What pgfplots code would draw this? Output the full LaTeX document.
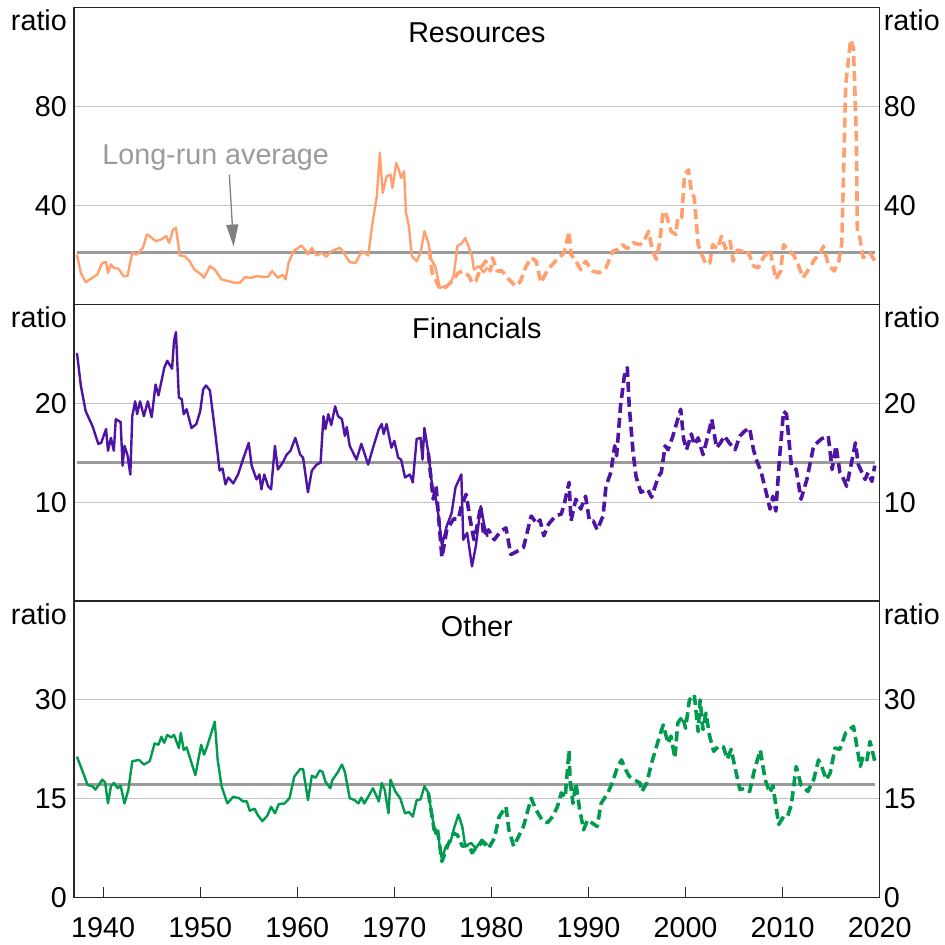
\documentclass[border=0pt]{standalone}
\usepackage{fontspec}
\setmainfont{Liberation Sans}
\usepackage{pgfplots}
\pgfplotsset{compat=1.18}
\usetikzlibrary{arrows.meta}
\definecolor{resc}{RGB}{255,160,110}
\definecolor{finc}{RGB}{80,20,165}
\definecolor{othc}{RGB}{0,155,78}
\definecolor{avgc}{RGB}{155,155,155}
\definecolor{gridc}{RGB}{195,195,195}
\newcommand{\fs}{\fontsize{28.8}{32}\selectfont}
\pgfplotsset{
 panel/.style={
  scale only axis, width=805.3bp, height=296.5bp,
  xmin=1937, xmax=2020,
  axis line style={line width=1.2bp, black!85},
  ymajorgrids, grid style={gridc, line width=1.1bp},
  xtick=\empty,
  ytick style={draw=none},
  yticklabel style={anchor=east, inner sep=0pt, xshift=-7bp},
  tick label style={font=\fs},
  /pgf/number format/assume math mode=true,
  clip=false,
  anchor=south west,
 },
 solid line/.style={line width=2.4bp, line join=round, no marks},
 dash line/.style={line width=3.6bp, dash pattern=on 10bp off 5bp, line join=round, no marks},
 avg line/.style={avgc, line width=2.6bp, no marks},
}
\newcommand{\rlab}[2]{\node[anchor=west, inner sep=0pt, font=\fs] at (axis cs:2020,#1) [xshift=4bp] {#2};}
\newcommand{\ratio}{%
 \node[anchor=base east, inner sep=0pt, font=\fs, xshift=-7bp, yshift=-23bp] at (rel axis cs:0,1) {ratio};
 \node[anchor=base west, inner sep=0pt, font=\fs, xshift=4bp, yshift=-23bp] at (rel axis cs:1,1) {ratio};}
\begin{document}
\begin{tikzpicture}[font=\fs]
\path[use as bounding box] (-74bp,-47.3bp) rectangle (870bp,897.3bp);
% ---------------- Resources ----------------
\begin{axis}[panel, at={(0bp,593bp)}, ymin=0, ymax=120, ytick={40,80}]
\addplot[avg line] coordinates {(1937.3,21) (2019.5,21)};
\addplot[resc, dash line] coordinates {
(1973.6,22.0) (1973.9,12.8) (1974.7,6.3) (1975.3,7.0) (1975.8,8.8) (1976.6,12.8) (1977.1,13.5) (1977.7,11.4)
(1978.0,8.8) (1978.4,9.4) (1978.9,14.8) (1979.4,17.5) (1979.9,13.5) (1980.1,18.9) (1980.6,13.5) (1981.1,13.5)
(1981.8,10.1) (1982.5,7.4) (1983.0,9.4) (1983.5,14.8) (1984.1,18.9) (1984.6,17.5) (1985.1,8.8) (1985.8,14.1)
(1986.6,17.5) (1987.5,20.9) (1988.0,29.6) (1988.2,20.2) (1988.7,17.5) (1989.2,14.1) (1989.7,17.5) (1990.4,13.5)
(1991.1,12.8) (1991.8,14.8) (1992.5,21.5) (1993.0,22.2) (1993.5,24.2) (1994.0,22.5) (1994.6,24.9) (1995.3,24.2)
(1995.7,25.5) (1996.2,29.6) (1996.6,21.5) (1997.0,18.2) (1997.3,24.2) (1997.7,37.7) (1998.0,36.4) (1998.5,29.6)
(1999.0,28.3) (1999.2,35.0) (1999.6,35.0) (1999.9,52.5) (2000.3,54.5) (2000.6,45.8) (2000.9,43.1) (2001.3,24.2)
(2001.6,20.9) (2002.1,16.2) (2002.5,16.8) (2002.8,24.2) (2003.3,22.5) (2003.7,27.6) (2004.1,22.5) (2004.6,25.6)
(2004.9,17.5) (2005.3,22.0) (2005.8,21.5) (2006.1,20.0) (2006.5,20.9) (2007.0,15.5) (2007.5,14.8) (2008.0,18.9)
(2008.7,22.2) (2009.3,10.1) (2009.8,13.5) (2010.1,24.2) (2010.6,22.0) (2011.1,20.2) (2011.6,16.2) (2012.1,10.8)
(2012.8,14.8) (2013.3,18.2) (2013.9,20.9) (2014.2,23.6) (2014.7,16.2) (2015.3,13.5) (2015.8,17.5) (2016.1,24.9)
(2016.5,88.9) (2016.8,99.7) (2017.0,107.1) (2017.3,103.7) (2017.6,67.3) (2017.7,29.6) (2017.9,28.0) (2018.3,18.9)
(2018.6,20.0) (2019.0,20.9) (2019.5,17.5)};
\addplot[resc, solid line] coordinates {
(1937.3,20.2) (1937.7,12.8) (1938.2,9.0) (1938.9,10.8) (1939.4,12.1) (1939.9,16.8) (1940.3,17.1) (1940.5,12.8)
(1940.8,16.2) (1941.1,14.8) (1941.6,14.4) (1942.1,11.4) (1942.5,11.4) (1943.0,20.9) (1943.5,20.2) (1944.1,22.9)
(1944.5,28.3) (1944.9,27.3) (1945.4,25.6) (1946.0,26.3) (1946.5,27.6) (1946.8,24.9) (1947.2,30.3) (1947.5,31.0)
(1947.9,19.8) (1948.4,19.5) (1948.9,17.5) (1949.4,14.1) (1950.1,12.1) (1950.4,10.8) (1951.0,15.5) (1951.5,14.1)
(1952.2,10.1) (1952.9,9.4) (1953.5,8.8) (1954.1,8.8) (1954.6,11.0) (1955.3,10.8) (1955.8,11.4) (1956.5,11.2)
(1957.0,11.2) (1957.4,13.5) (1958.0,10.8) (1958.5,12.0) (1958.8,10.1) (1959.1,16.8) (1959.6,21.5) (1960.1,22.9)
(1960.4,23.8) (1960.8,22.2) (1961.1,20.2) (1961.5,22.9) (1962.0,19.8) (1962.5,20.9) (1963.0,19.3) (1963.5,21.5)
(1964.4,22.9) (1964.9,20.2) (1965.4,17.1) (1966.0,16.8) (1966.3,18.9) (1966.6,21.5) (1967.0,20.9) (1967.3,19.8)
(1967.8,34.3) (1968.2,43.8) (1968.5,61.3) (1968.8,45.1) (1969.2,51.8) (1969.6,52.5) (1969.8,47.1) (1970.2,57.2)
(1970.4,55.2) (1970.7,51.2) (1971.0,53.9) (1971.2,37.0) (1971.5,31.6) (1971.8,19.5) (1972.3,17.5) (1972.7,20.9)
(1973.1,29.6) (1973.5,24.9) (1973.8,18.2) (1974.2,15.5) (1974.7,6.7) (1975.3,7.4) (1975.8,8.8) (1976.1,11.4)
(1976.5,23.6) (1977.0,24.9) (1977.3,26.9) (1977.7,22.9) (1978.0,19.5) (1978.2,14.1) (1978.7,15.5) (1979.2,13.0)
(1979.6,15.0)};
\node[anchor=base, inner sep=0pt, yshift=-35bp] at (rel axis cs:0.5,1) {Resources};
\node[anchor=base west, inner sep=0pt, text=avgc] at (axis cs:1939.9,56.6) {Long-run average};
\draw[black!50, line width=1.3bp, -{Triangle[length=22bp,width=12bp]}] (axis cs:1953.0,52.5) -- (axis cs:1953.44,23.4);
\ratio
\rlab{40}{40}\rlab{80}{80}
\end{axis}
% ---------------- Financials ----------------
\begin{axis}[panel, at={(0bp,296.5bp)}, ymin=0, ymax=30, ytick={10,20}]
\addplot[avg line] coordinates {(1937.3,14.0) (2019.5,14.0)};
\addplot[finc, dash line] coordinates {
(1973.5,15.0) (1974.0,10.3) (1974.3,11.6) (1974.9,4.4) (1975.4,7.2) (1976.1,8.3) (1976.6,8.3) (1976.9,9.6)
(1977.4,10.8) (1977.8,8.3) (1978.2,6.2) (1978.4,6.9) (1978.9,9.6) (1979.2,6.6) (1979.7,7.2) (1980.3,6.2)
(1980.9,7.0) (1981.5,7.4) (1982.0,4.7) (1982.6,5.0) (1983.3,5.4) (1984.1,8.6) (1984.7,7.8) (1985.0,8.2)
(1985.4,6.6) (1985.9,7.8) (1986.6,8.6) (1987.2,8.8) (1987.5,9.8) (1988.0,12.0) (1988.2,8.1) (1988.7,10.3)
(1989.2,9.3) (1989.7,10.6) (1990.1,8.1) (1990.5,8.1) (1990.9,7.2) (1991.5,8.6) (1991.8,11.6) (1992.3,13.0)
(1992.7,15.7) (1992.9,14.7) (1993.3,19.7) (1993.7,22.8) (1994.0,23.6) (1994.2,19.7) (1994.6,15.0) (1994.9,12.6)
(1995.4,11.0) (1996.1,11.3) (1996.5,10.5) (1997.2,12.6) (1997.5,13.0) (1997.9,15.7) (1998.2,15.3) (1998.7,16.7)
(1999.2,18.4) (1999.5,19.4) (1999.8,16.4) (2000.1,15.3) (2000.6,16.9) (2000.9,15.8) (2001.3,16.5) (2001.8,14.8)
(2002.3,16.7) (2002.7,18.4) (2003.2,15.5) (2003.6,16.0) (2004.0,16.7) (2004.5,16.0) (2005.1,15.3) (2005.6,16.7)
(2006.1,17.2) (2006.6,17.5) (2007.0,15.3) (2007.3,14.3) (2007.8,13.0) (2008.4,10.6) (2008.7,9.3) (2009.0,10.6)
(2009.3,9.1) (2009.7,14.7) (2010.1,19.2) (2010.4,18.9) (2010.9,13.7) (2011.4,13.3) (2011.9,10.3) (2012.5,12.3)
(2013.2,15.7) (2014.0,16.4) (2014.7,16.7) (2015.1,13.3) (2015.5,15.7) (2015.9,13.0) (2016.2,12.5) (2016.6,11.6)
(2017.1,14.0) (2017.5,16.0) (2017.8,13.8) (2018.5,12.3) (2018.8,13.0) (2019.2,12.1) (2019.5,13.7)};
\addplot[finc, solid line] coordinates {
(1937.3,25.1) (1937.7,21.8) (1938.2,19.2) (1938.9,17.7) (1939.5,15.9) (1939.8,16.0) (1940.3,17.4) (1940.5,15.2)
(1940.8,16.5) (1941.1,15.2) (1941.3,18.4) (1941.8,18.1) (1942.0,13.7) (1942.2,15.7) (1942.5,14.8) (1942.8,12.8)
(1943.0,18.7) (1943.3,20.2) (1943.5,18.9) (1943.8,20.2) (1944.2,18.7) (1944.6,20.2) (1945.0,18.6) (1945.4,21.9)
(1945.7,20.8) (1946.3,23.6) (1946.6,24.3) (1947.1,23.5) (1947.3,26.3) (1947.5,27.2) (1947.8,20.6) (1948.1,20.4)
(1948.3,18.9) (1948.6,19.4) (1949.1,17.5) (1949.6,17.9) (1950.0,19.2) (1950.3,21.4) (1950.6,21.8) (1951.0,21.3)
(1951.5,17.4) (1952.0,13.2) (1952.3,13.4) (1952.6,11.8) (1952.9,12.5) (1953.4,11.9) (1953.9,12.8) (1954.4,14.3)
(1955.0,16.0) (1955.3,13.7) (1955.8,12.3) (1956.1,12.8) (1956.3,11.3) (1956.6,12.8) (1957.0,11.6) (1957.3,11.3)
(1957.7,15.7) (1958.0,13.3) (1958.5,14.0) (1958.9,14.8) (1959.3,15.2) (1959.8,16.5) (1960.3,14.8) (1960.6,14.5)
(1961.1,11.0) (1961.5,13.2) (1962.0,13.8) (1962.4,14.0) (1962.7,18.7) (1962.9,17.4) (1963.2,18.9) (1963.5,17.8)
(1963.9,19.7) (1964.2,18.7) (1964.6,18.4) (1964.9,16.7) (1965.1,17.6) (1965.4,15.7) (1966.1,14.3) (1966.6,15.9)
(1967.3,13.8) (1967.8,15.5) (1968.4,17.4) (1968.7,17.9) (1968.9,16.9) (1969.2,17.9) (1969.7,15.5) (1970.0,16.2)
(1970.4,14.5) (1970.7,14.3) (1971.1,12.5) (1971.6,12.8) (1971.9,12.0) (1972.3,16.4) (1972.7,16.5) (1972.9,14.3)
(1973.1,17.5) (1973.5,15.0) (1973.9,11.6) (1974.2,10.8) (1974.6,8.3) (1974.9,5.6) (1975.4,7.6) (1975.9,8.9)
(1976.3,11.5) (1976.9,12.8) (1977.1,6.2) (1977.5,6.9) (1978.0,3.5) (1978.4,5.6) (1978.9,9.6) (1979.3,7.5)
(1979.6,6.5)};
\node[anchor=base, inner sep=0pt, yshift=-34bp] at (rel axis cs:0.5,1) {Financials};
\ratio
\rlab{10}{10}\rlab{20}{20}
\end{axis}
% ---------------- Other ----------------
\begin{axis}[panel, at={(0bp,0bp)}, ymin=0, ymax=45, ytick={0,15,30},
  xtick={1940,1950,...,2020}, xticklabels={1940,1950,1960,1970,1980,1990,2000,2010,2020},
  xtick pos=left, tick align=inside, major tick length=11bp,
  xtick style={black!85, line width=1.2bp},
  xticklabel style={anchor=north, inner sep=0pt, yshift=-20bp}]
\addplot[avg line] coordinates {(1937.3,17.2) (2019.5,17.2)};
\addplot[othc, dash line] coordinates {
(1973.5,15.9) (1974.1,10.3) (1974.4,10.8) (1974.9,5.5) (1975.6,8.3) (1976.1,9.8) (1976.5,9.5) (1977.0,7.8)
(1977.7,8.0) (1978.0,6.8) (1978.4,7.5) (1979.1,8.5) (1979.7,7.5) (1980.3,9.0) (1980.8,12.3) (1981.5,13.8)
(1981.8,10.3) (1982.3,7.8) (1982.8,9.3) (1983.3,10.8) (1984.1,15.1) (1984.6,13.3) (1985.3,11.6) (1985.8,11.4)
(1986.3,12.3) (1986.8,13.8) (1987.2,15.9) (1987.6,15.2) (1988.0,22.4) (1988.1,17.9) (1988.4,14.3) (1988.7,17.4)
(1989.1,13.3) (1989.5,10.3) (1989.9,11.8) (1990.4,11.3) (1990.9,10.8) (1991.3,14.3) (1992.0,15.9) (1992.5,17.6)
(1993.0,19.9) (1993.4,20.9) (1993.8,19.5) (1994.2,18.4) (1994.8,17.8) (1995.3,17.4) (1995.5,16.1) (1996.0,17.4)
(1996.5,20.4) (1997.2,23.9) (1997.7,26.2) (1998.2,23.4) (1998.5,24.5) (1998.9,21.2) (1999.2,26.5) (1999.7,27.5)
(2000.0,25.7) (2000.4,30.0) (2000.9,30.8) (2001.3,25.2) (2001.5,30.0) (2001.8,25.5) (2002.1,28.0) (2002.5,24.4)
(2002.9,22.2) (2003.4,23.0) (2003.9,22.9) (2004.3,21.0) (2004.7,22.5) (2005.1,19.7) (2005.6,16.4) (2006.1,16.6)
(2006.6,16.1) (2007.1,19.4) (2007.7,22.4) (2008.2,17.9) (2008.7,15.9) (2009.0,17.0) (2009.6,11.1) (2010.1,12.3)
(2010.5,12.3) (2010.9,14.1) (2011.4,19.9) (2011.9,17.1) (2012.2,16.8) (2012.6,16.1) (2013.2,17.9) (2013.7,20.9)
(2014.0,20.0) (2014.5,17.9) (2014.9,18.9) (2015.4,22.7) (2015.9,22.5) (2016.5,25.0) (2017.3,26.0) (2017.6,23.4)
(2018.0,19.9) (2018.3,21.5) (2018.7,20.9) (2019.0,23.7) (2019.5,20.7)};
\addplot[othc, solid line] coordinates {
(1937.3,21.4) (1937.9,19.1) (1938.4,17.1) (1938.9,16.9) (1939.2,16.4) (1939.5,17.0) (1939.9,17.9) (1940.2,17.5)
(1940.5,14.3) (1940.8,16.9) (1941.1,17.4) (1941.5,16.6) (1941.8,17.0) (1942.2,14.3) (1942.6,16.4) (1943.0,20.7)
(1943.7,20.9) (1944.2,20.2) (1944.8,20.7) (1945.3,23.4) (1945.7,23.2) (1946.0,24.4) (1946.3,23.5) (1946.6,24.7)
(1947.0,24.3) (1947.3,24.7) (1947.8,22.7) (1948.0,25.0) (1948.3,22.4) (1948.6,22.8) (1949.5,18.6) (1950.1,23.2)
(1950.4,21.7) (1950.7,22.9) (1951.5,26.7) (1951.8,20.9) (1952.2,16.9) (1952.8,14.3) (1953.4,15.3) (1954.0,15.1)
(1954.4,14.6) (1954.8,14.6) (1955.1,13.2) (1955.6,13.5) (1955.9,12.6) (1956.4,11.6) (1956.9,12.4) (1957.3,13.8)
(1957.7,12.8) (1958.1,14.2) (1958.7,14.3) (1959.2,15.1) (1959.7,18.4) (1960.3,19.5) (1960.6,19.5) (1961.1,14.8)
(1961.5,18.5) (1961.9,18.2) (1962.3,19.3) (1962.6,19.1) (1962.9,17.6) (1963.4,16.6) (1963.6,17.8) (1964.2,19.1)
(1964.6,20.2) (1964.9,19.1) (1965.4,15.1) (1965.9,14.8) (1966.3,14.3) (1966.6,15.2) (1966.9,14.3) (1967.3,15.3)
(1967.8,16.6) (1968.4,14.6) (1968.7,17.4) (1969.0,16.4) (1969.4,12.8) (1969.6,17.9) (1970.1,16.1) (1970.6,15.1)
(1971.1,12.8) (1971.5,13.0) (1971.9,12.3) (1972.3,14.8) (1972.7,14.9) (1973.1,16.9) (1973.5,15.9) (1973.9,12.3)
(1974.2,9.8) (1974.5,9.5) (1974.9,5.8) (1975.3,7.8) (1975.8,8.5) (1976.1,10.3) (1976.6,12.6) (1977.0,10.8)
(1977.3,7.8) (1977.9,8.3) (1978.4,7.5) (1979.0,8.8) (1979.6,8.0)};
\node[anchor=base, inner sep=0pt, yshift=-35bp] at (rel axis cs:0.5,1) {Other};
\ratio
\rlab{0}{0}\rlab{15}{15}\rlab{30}{30}
\end{axis}
\end{tikzpicture}
\end{document}
